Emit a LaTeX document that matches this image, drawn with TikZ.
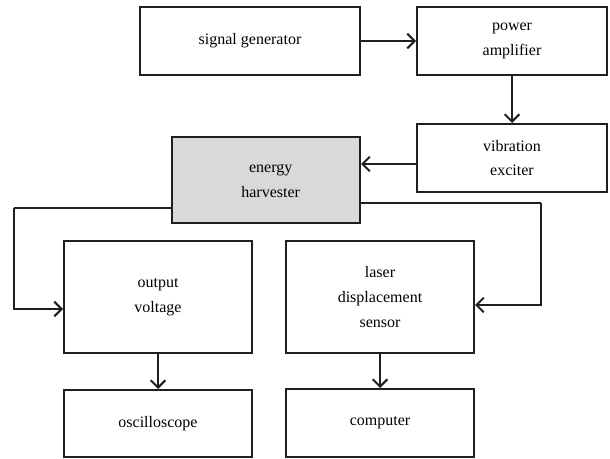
\documentclass[tikz,border=0pt]{standalone}
\usepackage{fontspec}
\setmainfont{Liberation Serif}
\usetikzlibrary{arrows.meta,calc}
\begin{document}
\begin{tikzpicture}[x=0.75pt,y=-0.75pt,
  box/.style={draw=black!88,line width=1.5pt,fill=white,align=center,inner sep=0pt,
    font=\rmfamily\fontsize{12pt}{18.5pt}\selectfont},
  arr/.style={draw=black!88,line width=1.5pt,-{Straight Barb[length=5.5pt,width=11pt,line width=1.5pt]}},
  conn/.style={draw=black!88,line width=1.5pt}]
\useasboundingbox (0,0) rectangle (610,459);
\node[box,minimum width=165pt,minimum height=51pt] (sg) at (250,41) {signal generator};
\node[box,minimum width=142.5pt,minimum height=51pt] (pa) at (512,41) {power\\amplifier};
\node[box,minimum width=142.5pt,minimum height=51pt] (ve) at (512,158) {vibration\\exciter};
\node[box,fill=black!15,minimum width=141pt,minimum height=64.5pt] (eh) at (266,180)
  {\hspace*{7pt}\raisebox{3.75pt}{\begin{tabular}{@{}c@{}}energy\\harvester\end{tabular}}};
\node[box,minimum width=141pt,minimum height=84pt] (ov) at (158,297) {output\\voltage};
\node[box,minimum width=141pt,minimum height=84pt] (ls) at (380,297) {laser\\displacement\\sensor};
\node[box,minimum width=141pt,minimum height=50.25pt] (os) at (158,423.5) {oscilloscope};
\node[box,minimum width=141pt,minimum height=51pt] (co) at (380,423) {computer};
\coordinate (lc) at (14,208);
\coordinate (rc) at (541,203);
\draw[arr] (sg.east) -- (pa.west);
\draw[arr] (pa.south) -- (ve.north);
\draw[arr] (ve.west |- 0,164) -- (eh.east |- 0,164);
\draw[conn] (eh.west |- lc) -- (lc);
\draw[arr] (lc) |- (ov.west |- 0,309);
\draw[conn] (eh.east |- rc) -- (rc);
\draw[arr] (rc) |- (ls.east |- 0,305);
\draw[arr] (ov.south) -- (os.north);
\draw[arr] (ls.south) -- (co.north);
\end{tikzpicture}
\end{document}
